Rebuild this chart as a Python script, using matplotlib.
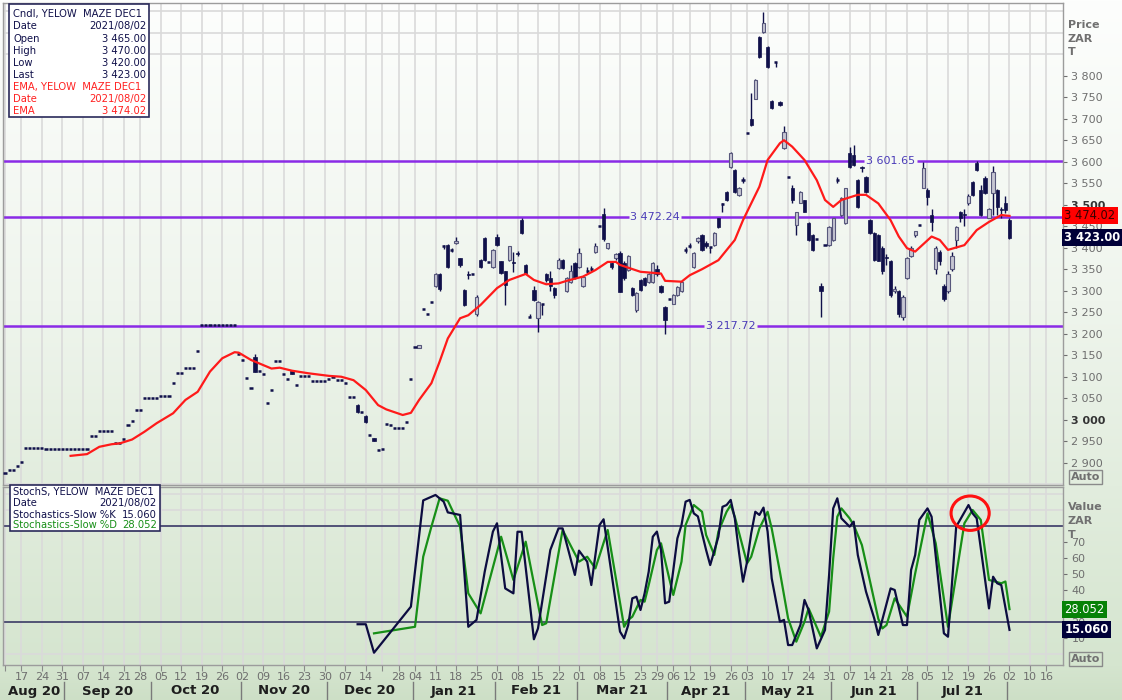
import numpy as np
import pandas as pd
import matplotlib
matplotlib.use('Agg')
import matplotlib.pyplot as plt
import matplotlib.transforms as mtransforms
from matplotlib.patches import Rectangle, Ellipse
from matplotlib.lines import Line2D

plt.rcParams['font.family'] = ['DejaVu Sans']

# ---------------- data ----------------
first_day = '2020-08-11'
last_day = '2021-08-02'
axis_end_day = '2021-08-20'
holidays = ['2020-09-24', '2020-12-16', '2020-12-25', '2021-01-01', '2021-03-22',
            '2021-04-02', '2021-04-05', '2021-04-27', '2021-06-16', '2021-08-09']
skip_week_labels = ['2020-08-11', '2020-12-21']

opens = [
 2876,2883,2883,2892,2902,2934,2934,2934,2934,2934,
 2931,2931,2931,2931,2931,2931,2931,2931,2931,2931,
 2931,2963,2963,2974,2974,2974,2974,2947,2947,2955,
 2988,2997,3022,3022,3051,3051,3051,3051,3055,3055,
 3055,3085,3108,3108,3121,3121,3121,3160,3220,3220,
 3220,3220,3220,3220,3220,3220,3220,3153,3139,3097,
 3073,3147,3113,3106,3038,3069,3136,3136,3106,3095,
 3114,3081,3102,3102,3102,3090,3090,3090,3090,3094,
 3100,3092,3092,3085,3054,3054,3034,3018,3008,2964,
 2957,2929,2933,2991,2988,2981,2981,2981,2995,3095,
 3170,3166,3258,3246,3273,3311,3340,3406,3406,3396,
 3412,3375,3302,3338,3340,3247,3371,3422,3367,3356,
 3425,3368,3345,3372,3366,3388,3465,3360,3240,3302,
 3236,3270,3340,3330,3306,3353,3372,3300,3320,3364,
 3356,3310,3348,3352,3389,3450,3478,3400,3365,3375,
 3388,3365,3348,3306,3255,3325,3330,3320,3320,3350,
 3312,3262,3280,3270,3290,3300,3395,3406,3356,3415,
 3430,3410,3402,3407,3468,3502,3530,3588,3580,3522,
 3558,3666,3700,3747,3890,3902,3867,3742,3832,3740,
 3632,3565,3540,3452,3505,3510,3458,3430,3420,3312,
 3406,3406,3418,3558,3476,3458,3620,3615,3558,3588,
 3565,3465,3434,3430,3400,3378,3370,3300,3300,3240,
 3330,3380,3430,3453,3540,3535,3476,3350,3390,3310,
 3300,3350,3418,3484,3478,3505,3552,3597,3535,3562,
 3470,3527,3535,3490,3505,3465]

highs = [
 2876,2883,2883,2892,2902,2934,2934,2934,2934,2934,
 2931,2931,2931,2931,2931,2931,2931,2931,2931,2931,
 2931,2963,2963,2974,2974,2974,2974,2947,2947,2955,
 2988,2997,3022,3022,3051,3051,3051,3051,3055,3055,
 3055,3085,3108,3108,3121,3121,3121,3160,3220,3220,
 3220,3220,3220,3220,3220,3220,3220,3153,3139,3097,
 3073,3152,3113,3106,3038,3069,3136,3136,3106,3095,
 3114,3081,3102,3102,3102,3090,3090,3090,3090,3094,
 3100,3092,3092,3085,3054,3054,3036,3018,3010,2964,
 2957,2929,2933,2991,2988,2981,2981,2981,2995,3095,
 3170,3174,3258,3246,3273,3342,3342,3407,3408,3400,
 3424,3377,3304,3345,3340,3290,3373,3425,3367,3398,
 3432,3370,3347,3405,3391,3392,3468,3362,3246,3310,
 3276,3270,3342,3345,3308,3376,3374,3332,3360,3366,
 3400,3335,3355,3358,3410,3450,3492,3412,3370,3388,
 3392,3368,3382,3308,3297,3327,3332,3342,3367,3360,
 3314,3265,3280,3292,3310,3322,3402,3412,3390,3425,
 3432,3415,3402,3437,3470,3503,3532,3622,3582,3542,
 3565,3666,3760,3792,3892,3948,3869,3744,3833,3742,
 3682,3565,3545,3484,3532,3512,3460,3432,3420,3318,
 3406,3450,3470,3565,3517,3540,3635,3640,3560,3590,
 3567,3467,3436,3432,3405,3385,3372,3312,3302,3290,
 3378,3405,3440,3453,3600,3540,3490,3405,3395,3315,
 3345,3390,3450,3486,3490,3525,3556,3602,3545,3567,
 3492,3590,3537,3495,3520,3470]

lows = [
 2876,2883,2883,2892,2902,2934,2934,2934,2934,2934,
 2931,2931,2931,2931,2931,2931,2931,2931,2931,2931,
 2931,2963,2963,2974,2974,2974,2974,2947,2947,2955,
 2988,2997,3022,3022,3051,3051,3051,3051,3055,3055,
 3055,3085,3108,3108,3121,3121,3121,3160,3220,3220,
 3220,3220,3220,3220,3220,3220,3220,3153,3139,3097,
 3073,3112,3113,3106,3038,3069,3136,3136,3106,3095,
 3106,3081,3102,3102,3102,3090,3090,3090,3090,3094,
 3100,3092,3092,3085,3054,3054,3016,3018,2993,2964,
 2950,2929,2933,2991,2988,2981,2981,2981,2995,3095,
 3170,3166,3258,3246,3273,3309,3300,3398,3352,3390,
 3408,3355,3264,3328,3340,3242,3352,3368,3367,3352,
 3404,3338,3266,3370,3344,3380,3432,3338,3240,3276,
 3205,3243,3320,3300,3282,3350,3350,3298,3318,3328,
 3354,3308,3342,3346,3387,3450,3415,3398,3350,3372,
 3296,3325,3346,3288,3250,3300,3312,3318,3318,3335,
 3295,3200,3280,3268,3288,3298,3388,3400,3354,3412,
 3393,3400,3388,3405,3446,3484,3508,3586,3528,3520,
 3550,3666,3683,3745,3841,3900,3818,3722,3820,3730,
 3630,3565,3505,3430,3503,3482,3416,3393,3420,3238,
 3406,3404,3416,3550,3474,3456,3586,3590,3493,3575,
 3528,3432,3370,3368,3340,3360,3285,3295,3238,3232,
 3328,3378,3425,3453,3538,3500,3440,3340,3360,3275,
 3295,3345,3400,3460,3450,3500,3520,3578,3474,3525,
 3468,3475,3475,3470,3480,3420]

closes = [
 2876,2883,2883,2892,2902,2934,2934,2934,2934,2934,
 2931,2931,2931,2931,2931,2931,2931,2931,2931,2931,
 2931,2963,2963,2974,2974,2974,2974,2947,2947,2955,
 2988,2997,3022,3022,3051,3051,3051,3051,3055,3055,
 3055,3085,3108,3108,3121,3121,3121,3160,3220,3220,
 3220,3220,3220,3220,3220,3220,3220,3153,3139,3097,
 3073,3112,3113,3106,3038,3069,3136,3136,3106,3095,
 3106,3081,3102,3102,3102,3090,3090,3090,3090,3094,
 3100,3092,3092,3085,3054,3054,3018,3018,2995,2964,
 2951,2929,2933,2991,2988,2981,2981,2981,2995,3095,
 3170,3174,3258,3246,3273,3340,3304,3405,3356,3395,
 3416,3360,3266,3336,3340,3286,3356,3371,3367,3395,
 3406,3342,3314,3403,3364,3386,3434,3342,3240,3278,
 3274,3270,3325,3310,3290,3372,3353,3330,3346,3330,
 3387,3333,3347,3351,3403,3450,3420,3410,3355,3385,
 3298,3330,3380,3290,3295,3302,3314,3340,3365,3340,
 3297,3232,3280,3290,3308,3320,3394,3405,3388,3422,
 3395,3405,3402,3435,3448,3502,3510,3620,3530,3540,
 3557,3666,3685,3790,3843,3922,3820,3725,3832,3732,
 3670,3565,3512,3484,3530,3484,3418,3395,3420,3300,
 3406,3448,3468,3557,3515,3538,3588,3592,3495,3585,
 3530,3434,3372,3370,3345,3375,3290,3305,3245,3285,
 3375,3400,3438,3453,3585,3518,3460,3400,3370,3280,
 3340,3380,3448,3470,3476,3520,3522,3580,3476,3527,
 3490,3575,3495,3488,3488,3423]

ema_days = [16, 20, 23, 26, 28, 31, 34, 37, 41, 44, 47, 50, 53, 56, 57, 60, 63, 65, 67, 70,
            74, 79, 82, 85, 88, 91, 93, 97, 99, 101, 104, 106, 108, 111, 113, 116, 120, 123,
            127, 129, 132, 135, 137, 141, 144, 147, 149, 150, 155, 160, 161, 165, 167, 170,
            174, 178, 180, 184, 186, 189, 190, 192, 195, 198, 200, 202, 204, 208, 210, 213,
            216, 218, 220, 222, 226, 228, 230, 234, 237, 240, 243, 245]
ema_vals = [2916, 2920, 2937, 2943, 2945, 2954, 2972, 2992, 3015, 3046, 3065, 3112, 3143, 3157,
            3156, 3139, 3127, 3119, 3121, 3114, 3108, 3102, 3100, 3092, 3069, 3034, 3024, 3011,
            3016, 3046, 3085, 3135, 3189, 3236, 3243, 3267, 3306, 3325, 3339, 3325, 3315, 3317,
            3323, 3333, 3348, 3367, 3367, 3360, 3344, 3340, 3323, 3321, 3336, 3350, 3371, 3418,
            3464, 3542, 3604, 3643, 3650, 3635, 3604, 3557, 3511, 3495, 3511, 3523, 3523, 3503,
            3464, 3426, 3399, 3391, 3426, 3418, 3395, 3406, 3441, 3460, 3476, 3474.02]

k_days = [86, 88, 90, 99, 102, 105, 107, 108, 111, 113, 115, 117, 119, 120, 122, 124, 125, 126,
          129, 130, 133, 135, 136, 139, 140, 142, 143, 145, 146, 150, 151, 152, 153, 154, 155,
          156, 157, 158, 159, 160, 161, 162, 164, 165, 166, 167, 168, 169, 171, 172, 174, 175,
          176, 177, 178, 179, 180, 181, 182, 183, 184, 185, 186, 187, 189, 190, 191, 192, 194,
          195, 196, 198, 200, 201, 202, 203, 204, 206, 207, 208, 210, 212, 213, 216, 217, 219,
          220, 221, 222, 223, 225, 226, 229, 230, 232, 235, 236, 237, 240, 241, 242, 243, 245]
k_vals = [18.6, 18.6, 0.8, 29.6, 96, 99.4, 95.2, 88.5, 86.9, 17, 21.3, 51.4, 76.5, 81.7, 41,
          37.9, 76.4, 76.4, 9.2, 16, 65, 78.5, 78.5, 49.4, 64.6, 57.7, 43.1, 80.6, 84.2, 14, 9.8,
          18, 34.8, 35.8, 27.5, 37.9, 51.4, 73.3, 76.5, 65, 31.7, 32.7, 72.3, 80.6, 95.2, 96.3,
          87.9, 86, 65, 55.6, 73.3, 92, 93.1, 96.3, 84.8, 64, 45.2, 57.7, 75.4, 88.9, 86.9, 91.5,
          76.5, 47.3, 20.2, 21.3, 5.6, 5.6, 18.1, 33.8, 27.5, 3.5, 15, 49.4, 91, 97.3, 84.8,
          79.6, 82.7, 61.9, 39, 22.3, 11.9, 41, 40, 18.1, 18.1, 52.5, 61.9, 83.8, 91, 85.8,
          12.9, 10.8, 79.6, 93.1, 87.9, 84.8, 28.5, 48.3, 44.2, 43.1, 15.06]
d_days = [90, 100, 102, 104, 106, 108, 111, 113, 116, 121, 124, 127, 131, 132, 136, 140, 142,
          144, 147, 151, 152, 153, 155, 156, 157, 159, 160, 162, 163, 165, 166, 168, 170, 171,
          173, 174, 176, 177, 178, 181, 182, 184, 186, 187, 189, 191, 193, 195, 196, 199, 201,
          202, 203, 204, 206, 207, 209, 211, 213, 214, 215, 217, 220, 222, 225, 227, 230, 234,
          236, 238, 240, 243, 244, 245]
d_vals = [12.9, 17, 60.8, 79.6, 97.3, 95.8, 79.6, 37.9, 25.4, 73.3, 46.3, 70.2, 18.1, 19.2,
          77.5, 57.7, 60.8, 53.5, 77.5, 17, 21.3, 23.3, 33.8, 32.7, 43.1, 65, 69.2, 47.3, 36.9,
          57.7, 80.6, 93.1, 88.9, 74.4, 61.9, 76.5, 88.9, 93.1, 85.8, 56.7, 60.8, 78.5, 88.9,
          78.5, 51.4, 22.3, 7.7, 20.2, 28.5, 10.8, 26.5, 59.8, 85.8, 91, 84.8, 80.6, 68.1, 45.2,
          22, 16, 18.1, 34.8, 23.3, 50.4, 87.9, 69.2, 17, 81.7, 90, 83.8, 46.3, 44.2, 45.3,
          28.052]

level_values = [3601.65, 3472.24, 3217.72]
ema_last = 3474.02
k_last = 15.060
d_last = 28.052
price_ticks = list(range(2900, 3801, 50))
stoch_ticks = [10, 20, 30, 40, 50, 60, 70]
stoch_hidden_labels = [30]
stoch_bands = [20, 80]
month_names = ['Aug 20', 'Sep 20', 'Oct 20', 'Nov 20', 'Dec 20', 'Jan 21', 'Feb 21',
               'Mar 21', 'Apr 21', 'May 21', 'Jun 21', 'Jul 21']

# ---------------- layout helpers ----------------
W, H = 1122, 700
fig = plt.figure(figsize=(W / 100, H / 100), dpi=100)


def fx(px):
    return px / W


def fy(py):
    return 1 - py / H


NAVY = '#10104a'
GRAY = '#6e6e6e'
GRID = '#dadada'
LEG_FS = 7.2

# background gradient
bg = fig.add_axes([0, 0, 1, 1], zorder=-10)
ys = np.arange(H)
stops_y = [0, 300, 485, 665, 700]
stops_c = np.array([[253, 254, 253], [239, 245, 237], [226, 237, 222],
                    [213, 229, 207], [205, 223, 198]]) / 255.0
grad = np.stack([np.interp(ys, stops_y, stops_c[:, k]) for k in range(3)], axis=-1)[:, None, :]
bg.imshow(grad, aspect='auto', extent=[0, 1, 0, 1])
bg.set_axis_off()

# trading calendar
hol = pd.to_datetime(holidays)
cal = pd.bdate_range(first_day, axis_end_day)
cal = cal[~cal.isin(hol)]
n = len(closes)
dpos = np.arange(n)

iso = cal.isocalendar()
wk_key = list(zip(iso['year'].values, iso['week'].values))
week_idx, week_lab = [], []
prev = None
for i, key in enumerate(wk_key):
    if key != prev:
        week_idx.append(i)
        d = cal[i]
        week_lab.append('' if d.strftime('%Y-%m-%d') in skip_week_labels else d.strftime('%d'))
    prev = key

x_left, x_right = -0.49, 258.05

# ---------------- main price panel ----------------
ax1 = fig.add_axes([fx(3), fy(485), fx(1063) - fx(3), fy(3) - fy(485)])
ax1.set_facecolor('none')
ax1.set_xlim(x_left, x_right)
ax1.set_ylim(2848.2, 3969.1)
ax1.set_xticks(week_idx)
ax1.tick_params(axis='x', length=0, labelbottom=False)
ax1.yaxis.tick_right()
ax1.set_yticks(price_ticks)
ax1.set_yticklabels([f'{v:,}'.replace(',', ' ') for v in price_ticks])
ax1.set_yticks(np.arange(2850, 3951, 50), minor=True)
ax1.tick_params(axis='y', which='major', direction='out', length=3, pad=3,
                labelsize=8, colors=GRAY)
ax1.tick_params(axis='y', which='minor', length=0)
for lab, v in zip(ax1.get_yticklabels(), price_ticks):
    if v % 500 == 0:
        lab.set_fontweight('bold')
        lab.set_color('#333333')
ax1.grid(True, axis='x', color=GRID, lw=1.2)
ax1.grid(True, axis='y', which='minor', color=GRID, lw=1.2)
ax1.set_axisbelow(True)
for s in ax1.spines.values():
    s.set_color('#9c9c9c')
    s.set_linewidth(1.0)

O = np.array(opens, float)
Hh = np.array(highs, float)
L = np.array(lows, float)
C = np.array(closes, float)

# level lines with gaps for their labels
level_label_pos = [216, 158.5, 177]
for v, c in zip(level_values, level_label_pos):
    for seg in ([x_left, c - 6.4], [c + 6.4, x_right]):
        ax1.plot(seg, [v, v], color='#8a2be6', lw=1.8, zorder=2, solid_capstyle='butt')
    ax1.text(c, v, f'{v:,.2f}'.replace(',', ' '), ha='center', va='center',
             fontsize=8, color='#4b3cb8', zorder=2)

# candles
wick = Hh > L
ax1.vlines(dpos[wick], L[wick], Hh[wick], color=NAVY, lw=1.0, zorder=3)
up = C > O + 1.5
dn = C < O - 1.5
flat = ~(up | dn)
ax1.bar(dpos[up], (C - O)[up], bottom=O[up], width=0.8, color='#c6c6d2',
        edgecolor='#58587c', linewidth=0.8, zorder=3)
ax1.bar(dpos[dn], (O - C)[dn], bottom=C[dn], width=0.8, color=NAVY,
        edgecolor=NAVY, linewidth=0.5, zorder=3)
ax1.hlines(C[flat], dpos[flat] - 0.38, dpos[flat] + 0.38, color=NAVY, lw=1.8, zorder=3)

# EMA
ax1.plot(ema_days, ema_vals, color='#ff1a1a', lw=1.6, zorder=4)

# ---------------- stochastic panel ----------------
ax2 = fig.add_axes([fx(3), fy(665), fx(1063) - fx(3), fy(487) - fy(665)])
ax2.set_facecolor('none')
ax2.set_xlim(x_left, x_right)
ax2.set_ylim(-6.875, 104.375)
ax2.set_xticks(week_idx)
ax2.set_xticklabels(week_lab)
ax2.tick_params(axis='x', direction='out', length=4, pad=1, labelsize=8,
                colors=GRAY, color='#8a8a8a')
ax2.yaxis.tick_right()
ax2.set_yticks(stoch_ticks)
ax2.set_yticklabels(['' if v in stoch_hidden_labels else str(v) for v in stoch_ticks])
ax2.set_yticks(np.arange(0, 101, 10), minor=True)
ax2.tick_params(axis='y', which='major', direction='out', length=3, pad=3,
                labelsize=8, colors=GRAY)
ax2.tick_params(axis='y', which='minor', length=0)
ax2.grid(True, axis='x', color=GRID, lw=1.2)
ax2.grid(True, axis='y', which='minor', color=GRID, lw=1.2)
ax2.set_axisbelow(True)
for s in ax2.spines.values():
    s.set_color('#9c9c9c')
    s.set_linewidth(1.0)

for b in stoch_bands:
    ax2.axhline(b, color='#2c2c5c', lw=1.1, zorder=2)
ax2.plot(d_days, d_vals, color='#178f17', lw=1.6, zorder=3)
ax2.plot(k_days, k_vals, color='#0c0c40', lw=1.6, zorder=4)
ax2.add_patch(Ellipse((235.4, 88.0), width=9.3, height=21.5, fill=False,
                      edgecolor='#ff1010', lw=2.2, zorder=5))

# month labels and separators
blend = mtransforms.blended_transform_factory(ax2.transData, fig.transFigure)
months = cal[:n].to_period('M')
uniq = pd.unique(months)
for k, m in enumerate(uniq):
    ids = np.where(months == m)[0]
    if k > 0:
        ax2.add_line(Line2D([ids[0] - 0.5, ids[0] - 0.5], [fy(682), fy(699)],
                            transform=blend, color='#7a7a7a', lw=1, clip_on=False))
    if k < len(month_names):
        ax2.text((ids[0] + ids[-1]) / 2, fy(691), month_names[k], transform=blend,
                 ha='center', va='center', fontsize=9.5, fontweight='bold', color='#1e1e1e')

# ---------------- right side annotations ----------------
for t, yy in zip(['Price', 'ZAR', 'T'], [25, 38.5, 52]):
    fig.text(fx(1068), fy(yy), t, fontsize=8, fontweight='bold', color='#707070', va='center')
for t, yy in zip(['Value', 'ZAR', 'T'], [507, 521, 535]):
    fig.text(fx(1068), fy(yy), t, fontsize=8, fontweight='bold', color='#707070', va='center')
for yy in [477, 659]:
    fig.text(fx(1071), fy(yy), 'Auto', fontsize=8, fontweight='bold', color='#707070',
             va='center', bbox=dict(boxstyle='square,pad=0.15', fc='none', ec='#8a8a8a', lw=1))

rb1 = mtransforms.blended_transform_factory(fig.transFigure, ax1.transData)
rb2 = mtransforms.blended_transform_factory(fig.transFigure, ax2.transData)


def value_box(tr, val, text, fc, tc, bold):
    fig.text(fx(1064.5), val, text, transform=tr, fontsize=8.3, color=tc,
             fontweight='bold' if bold else 'normal', va='center', ha='left', zorder=20,
             bbox=dict(boxstyle='square,pad=0.18', fc=fc, ec='none'))


value_box(rb1, ema_last, f'{ema_last:,.2f}'.replace(',', ' '), '#ff0000', '#3a0000', False)
value_box(rb1, closes[-1], f'{closes[-1]:,.2f}'.replace(',', ' '), '#000038', 'white', True)
value_box(rb2, d_last, f'{d_last:.3f}', '#078207', 'white', False)
value_box(rb2, k_last, f'{k_last:.3f}', '#000038', 'white', True)

# ---------------- legends ----------------
fig.add_artist(Rectangle((fx(9), fy(117)), fx(149) - fx(9), fy(4) - fy(117),
                         transform=fig.transFigure, fc='white', ec='#2a2a5a', lw=1.2, zorder=10))
fmt = lambda v: f'{v:,.2f}'.replace(',', ' ')
date_txt = pd.Timestamp(last_day).strftime('%Y/%m/%d')
rows1 = [('Cndl, YELOW  MAZE DEC1', '', NAVY), ('Date', date_txt, NAVY),
         ('Open', fmt(opens[-1]), NAVY), ('High', fmt(highs[-1]), NAVY),
         ('Low', fmt(lows[-1]), NAVY), ('Last', fmt(closes[-1]), NAVY),
         ('EMA, YELOW  MAZE DEC1', '', '#ff2020'), ('Date', date_txt, '#ff2020'),
         ('EMA', fmt(ema_last), '#ff2020')]
ys1 = [14, 26.3, 38.6, 50.9, 62.5, 74.5, 87, 99, 110.5]
for (a, b, col), yy in zip(rows1, ys1):
    fig.text(fx(13), fy(yy), a, fontsize=LEG_FS, color=col, va='center', ha='left', zorder=11)
    if b:
        fig.text(fx(146), fy(yy), b, fontsize=LEG_FS, color=col, va='center', ha='right',
                 zorder=11)

fig.add_artist(Rectangle((fx(10), fy(531)), fx(160) - fx(10), fy(485) - fy(531),
                         transform=fig.transFigure, fc='white', ec='#2a2a5a', lw=1.2, zorder=10))
rows2 = [('StochS, YELOW  MAZE DEC1', '', NAVY), ('Date', date_txt, NAVY),
         ('Stochastics-Slow %K', f'{k_last:.3f}', NAVY),
         ('Stochastics-Slow %D', f'{d_last:.3f}', '#178f17')]
ys2 = [491.5, 503, 514.5, 525.5]
for (a, b, col), yy in zip(rows2, ys2):
    fig.text(fx(13), fy(yy), a, fontsize=LEG_FS, color=col, va='center', ha='left', zorder=11)
    if b:
        fig.text(fx(157), fy(yy), b, fontsize=LEG_FS, color=col, va='center', ha='right',
                 zorder=11)

fig.savefig('out.png', dpi=100)
